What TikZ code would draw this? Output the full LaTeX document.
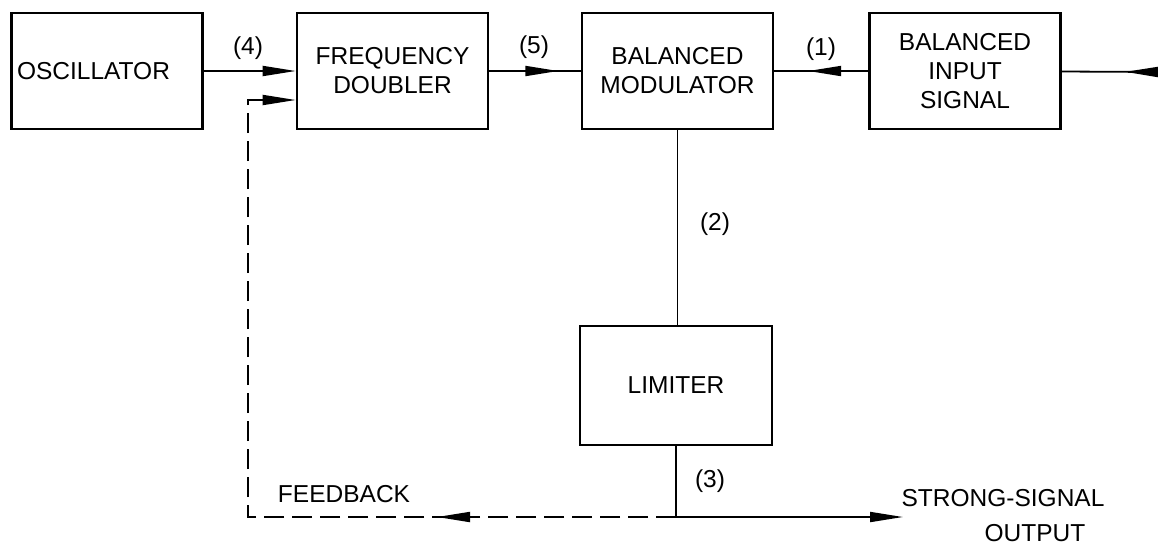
\documentclass[tikz,border=0pt]{standalone}
\usepackage{fontspec}
\setmainfont{Liberation Sans}
\usetikzlibrary{arrows.meta,decorations.markings,calc}
\newcommand\lbltxt{\fontsize{24.5}{29}\selectfont}
\tikzset{
  box/.style={draw, line width=2.6pt, minimum width=191pt, minimum height=116pt,
              align=center, font=\lbltxt, inner sep=0pt},
  conn/.style={line width=1.8pt},
  tipend/.style={-{Triangle[length=33pt,width=10pt]}},
  midtip/.style={postaction={decorate},
     decoration={markings, mark=at position #1 with {\arrow{Triangle[length=33pt,width=10pt]}}}},
  fbdash/.style={dash pattern=on 20pt off 8pt},
  lab/.style={font=\lbltxt, inner sep=0pt},
}
\begin{document}
\begin{tikzpicture}[x=1pt,y=-1pt]
\useasboundingbox (0,0) rectangle (1158,547);
% boxes
\node[box, align=left, text width=180pt, inner xsep=5pt] (osc) at (107,71) {OSCILLATOR};
\node[box] (dbl) at (392.5,71) {FREQUENCY\\DOUBLER};
\node[box] (mod) at (677.5,71) {BALANCED\\MODULATOR};
\node[box] (inp) at (965,71) {BALANCED\\INPUT\\SIGNAL};
\node[box, minimum width=192pt, minimum height=119pt] (lim) at (676,385.5) {LIMITER};
% coordinates
\coordinate (src) at (1158,72);
\path (lim.south |- 0,517) coordinate (j);
\coordinate (outp) at (903,517);
\coordinate (fb1) at (248,517);
\coordinate (fb2) at (248,100);
% connectors
\draw[conn, tipend] (osc) -- (dbl);
\draw[conn, midtip=69pt] (dbl) -- (mod);
\draw[conn, midtip=60pt] (inp) -- (mod);
\draw[conn, midtip=33pt] (src) -- (inp);
\draw[conn] (mod.south) -- (mod.south |- lim.north);
\draw[conn, tipend] (lim.south) -- (j) -- (outp);
\draw[conn, fbdash, tipend, midtip=239pt] (j) -- (fb1) -- (fb2) -- (fb2 -| dbl.west);
% labels
\node[lab] (l4) at (248,48) {(4)};
\node[lab] (l5) at (534,47) {(5)};
\node[lab] (l1) at (821,49) {(1)};
\node[lab] (l2) at (715,224) {(2)};
\node[lab] (l3) at (710,481) {(3)};
\node[lab] (fbl) at (344,494) {FEEDBACK};
\node[lab] (sso) at (1003,498) {STRONG-SIGNAL};
\node[lab] (ssout) at (1035,533) {OUTPUT};
\end{tikzpicture}
\end{document}
